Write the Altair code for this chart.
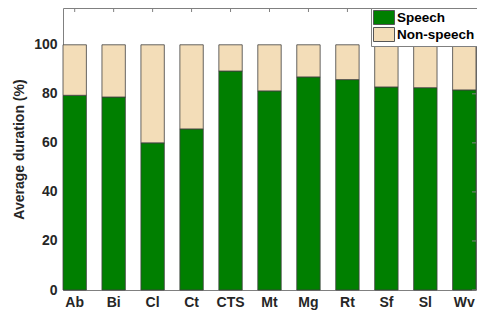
import altair as alt
import pandas as pd

categories = ["Ab", "Bi", "Cl", "Ct", "CTS", "Mt", "Mg", "Rt", "Sf", "Sl", "Wv"]
speech = [79.4, 78.7, 60.0, 65.7, 89.3, 81.2, 86.9, 85.8, 82.8, 82.5, 81.6]
total = [100] * len(categories)
y_ticks = [0, 20, 40, 60, 80, 100]
series = ["Speech", "Non-speech"]
colors = ["#007F00", "#F3DDB8"]

rows = []
for c, s, t in zip(categories, speech, total):
    rows.append({"cat": c, "type": "Speech", "lo": 0, "hi": s})
    rows.append({"cat": c, "type": "Non-speech", "lo": s, "hi": t})
df = pd.DataFrame(rows)

W, H = 413, 282
FONT = "Liberation Sans"

xscale = alt.Scale(domain=categories, paddingInner=0.4, paddingOuter=0)
yscale = alt.Scale(domain=[0, 115], nice=False)

bars = alt.Chart(df).mark_bar(stroke="#404040", strokeWidth=0.8).encode(
    x=alt.X("cat:N", scale=xscale, sort=categories,
            axis=alt.Axis(title=None, labelAngle=0, ticks=False, domain=False,
                          labelPadding=5, labelFontSize=14, labelFontWeight="bold",
                          labelFont=FONT, labelColor="#262626")),
    y=alt.Y("lo:Q", scale=yscale,
            axis=alt.Axis(title="Average duration (%)", values=y_ticks, ticks=False,
                          domain=False, grid=False, labelPadding=6, labelFontSize=14,
                          labelFontWeight="bold", labelFont=FONT, labelColor="#262626",
                          titleFontSize=14, titleFont=FONT, titleFontWeight="bold",
                          titleColor="#262626", titlePadding=7)),
    y2="hi:Q",
    color=alt.Color("type:N", scale=alt.Scale(domain=series, range=colors),
                    sort=series,
                    legend=alt.Legend(title=None, orient="none", legendX=308, legendY=0,
                                      fillColor="white", strokeColor="#808080",
                                      padding=2, rowPadding=-4,
                                      symbolType="M-1,-1H2V1H-1Z", symbolSize=196,
                                      symbolStrokeColor="#555", symbolStrokeWidth=1,
                                      symbolOpacity=1,
                                      labelOffset=9, labelFontSize=13.5, labelFontWeight="bold",
                                      labelFont=FONT, labelColor="#000")),
)

tick_df = pd.DataFrame({"v": y_ticks})
right_ticks = alt.Chart(tick_df).mark_rule(color="#808080", strokeWidth=1).encode(
    y=alt.Y("v:Q", scale=yscale), x=alt.value(W - 4), x2=alt.value(W)
)
cat_df = pd.DataFrame({"cat": categories})
top_ticks = alt.Chart(cat_df).mark_rule(color="#808080", strokeWidth=1).encode(
    x=alt.X("cat:N", scale=xscale, sort=categories), y=alt.value(0), y2=alt.value(4)
)

chart = alt.layer(bars, right_ticks, top_ticks).properties(
    width=W, height=H,
    autosize=alt.AutoSizeParams(type="none"),
    padding={"left": 55, "top": 0, "right": 1, "bottom": 22},
).configure_view(stroke="#808080", strokeWidth=1)

chart.save("out.html", embed_options={"renderer": "svg", "actions": False})
